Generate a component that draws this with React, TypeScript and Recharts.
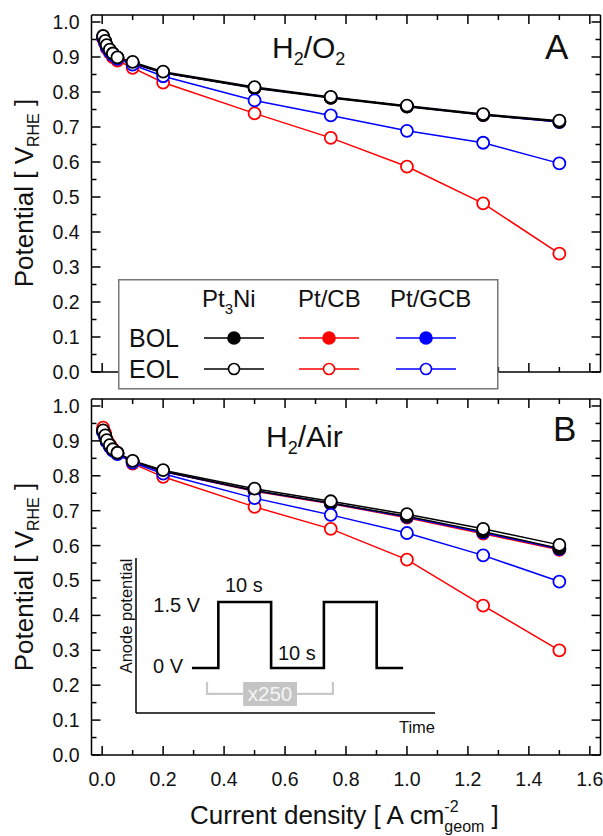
import React from 'react';
import { LineChart, Line, XAxis, YAxis, Legend, ReferenceArea } from 'recharts';

const FONT = '"Liberation Sans", Arial, Helvetica, sans-serif';
const RED = '#ff0000';
const BLUE = '#0000ff';
const BLACK = '#000000';

// ---------- data ----------
const currentDensity = [0.003, 0.01, 0.015, 0.025, 0.035, 0.05, 0.1, 0.2, 0.5, 0.75, 1.0, 1.25, 1.5];

// Panel A: H2/O2
const aPt3NiBOL = [0.956, 0.943, 0.931, 0.919, 0.909, 0.898, 0.882, 0.855, 0.811, 0.783, 0.758, 0.734, 0.715];
const aPtCBBOL = [0.956, 0.943, 0.931, 0.919, 0.909, 0.898, 0.882, 0.855, 0.812, 0.784, 0.759, 0.735, 0.716];
const aPtGCBBOL = [0.956, 0.943, 0.931, 0.919, 0.909, 0.898, 0.882, 0.855, 0.812, 0.784, 0.759, 0.735, 0.714];
const aPt3NiEOL = [0.96, 0.946, 0.934, 0.921, 0.91, 0.899, 0.886, 0.858, 0.814, 0.786, 0.761, 0.737, 0.718];
const aPtCBEOL = [0.952, 0.938, 0.925, 0.912, 0.9, 0.89, 0.869, 0.827, 0.739, 0.669, 0.587, 0.482, 0.338];
const aPtGCBEOL = [0.955, 0.94, 0.928, 0.915, 0.905, 0.895, 0.878, 0.845, 0.776, 0.733, 0.689, 0.655, 0.596];

// Panel B: H2/Air
const bPt3NiBOL = [0.928, 0.914, 0.9, 0.886, 0.874, 0.864, 0.841, 0.813, 0.758, 0.722, 0.684, 0.64, 0.592];
const bPtCBBOL = [0.93, 0.915, 0.9, 0.886, 0.874, 0.864, 0.84, 0.812, 0.756, 0.72, 0.68, 0.634, 0.588];
const bPtGCBBOL = [0.928, 0.913, 0.9, 0.886, 0.874, 0.864, 0.84, 0.812, 0.757, 0.721, 0.682, 0.637, 0.59];
const bPt3NiEOL = [0.93, 0.916, 0.902, 0.888, 0.876, 0.866, 0.843, 0.816, 0.763, 0.727, 0.69, 0.648, 0.602];
const bPtCBEOL = [0.938, 0.922, 0.905, 0.89, 0.877, 0.865, 0.835, 0.797, 0.711, 0.648, 0.56, 0.428, 0.3];
const bPtGCBEOL = [0.925, 0.91, 0.897, 0.883, 0.872, 0.862, 0.838, 0.806, 0.736, 0.688, 0.636, 0.572, 0.497];

const xTicks = [0, 0.1, 0.2, 0.3, 0.4, 0.5, 0.6, 0.7, 0.8, 0.9, 1.0, 1.1, 1.2, 1.3, 1.4, 1.5, 1.6];
const yTicks = [0, 0.05, 0.1, 0.15, 0.2, 0.25, 0.3, 0.35, 0.4, 0.45, 0.5, 0.55, 0.6, 0.65, 0.7, 0.75, 0.8, 0.85, 0.9, 0.95, 1.0];
const xDomain: [number, number] = [-0.035, 1.635];
const yDomain: [number, number] = [0, 1.02];

// inset (anode potential protocol)
const waveTime = [0, 1, 1, 3, 3, 5, 5, 7, 7, 8];
const waveVolt = [0, 0, 1.5, 1.5, 0, 0, 1.5, 1.5, 0, 0];
const bracketLeftTime = [0.57, 0.57, 1.94];
const bracketLeftVolt = [-0.32, -0.59, -0.59];
const bracketRightTime = [3.98, 5.34, 5.34];
const bracketRightVolt = [-0.59, -0.59, -0.32];

const catalysts = ['Pt3Ni', 'Pt/CB', 'Pt/GCB'];
const catalystColors = [BLACK, RED, BLUE];

type SeriesDef = { key: string; name: string; color: string; filled: boolean };
const drawOrder: SeriesDef[] = [
  { key: 'cbBOL', name: 'Pt/CB BOL', color: RED, filled: true },
  { key: 'gcbBOL', name: 'Pt/GCB BOL', color: BLUE, filled: true },
  { key: 'niBOL', name: 'Pt3Ni BOL', color: BLACK, filled: true },
  { key: 'cbEOL', name: 'Pt/CB EOL', color: RED, filled: false },
  { key: 'gcbEOL', name: 'Pt/GCB EOL', color: BLUE, filled: false },
  { key: 'niEOL', name: 'Pt3Ni EOL', color: BLACK, filled: false },
];

function buildRows(vals: Record<string, number[]>) {
  return currentDensity.map((x, i) => {
    const r: Record<string, number> = { x };
    Object.keys(vals).forEach((k) => {
      r[k] = vals[k][i];
    });
    return r;
  });
}

const rowsA = buildRows({
  niBOL: aPt3NiBOL, cbBOL: aPtCBBOL, gcbBOL: aPtGCBBOL,
  niEOL: aPt3NiEOL, cbEOL: aPtCBEOL, gcbEOL: aPtGCBEOL,
});
const rowsB = buildRows({
  niBOL: bPt3NiBOL, cbBOL: bPtCBBOL, gcbBOL: bPtGCBBOL,
  niEOL: bPt3NiEOL, cbEOL: bPtCBEOL, gcbEOL: bPtGCBEOL,
});

const waveRows = waveTime.map((t, i) => ({ t, v: waveVolt[i] }));
const bracketLeftRows = bracketLeftTime.map((t, i) => ({ t, v: bracketLeftVolt[i] }));
const bracketRightRows = bracketRightTime.map((t, i) => ({ t, v: bracketRightVolt[i] }));

// ---------- ticks ----------
const MAJOR = 9;
const MINOR = 5;
const isXMajor = (v: number) => Math.round(v * 10) % 2 === 0;
const isYMajor = (v: number) => Math.round(v * 100) % 10 === 0;

const makeXTick = (side: 'bottom' | 'top', showLabel: boolean) => (props: any) => {
  const { x, y, payload } = props;
  const v = payload.value as number;
  const major = isXMajor(v);
  const len = major ? MAJOR : MINOR;
  const dir = side === 'bottom' ? -1 : 1;
  return (
    <g>
      <line x1={x} y1={y} x2={x} y2={y + dir * len} stroke="#000" strokeWidth={1.5} />
      {showLabel && major ? (
        <text x={x} y={y + 31} textAnchor="middle" fontSize={19.5} fontFamily={FONT} fill="#111">
          {v.toFixed(1)}
        </text>
      ) : null}
    </g>
  );
};

const makeYTick = (side: 'left' | 'right') => (props: any) => {
  const { x, y, payload } = props;
  const v = payload.value as number;
  const major = isYMajor(v);
  const len = major ? MAJOR : MINOR;
  const dir = side === 'left' ? 1 : -1;
  return (
    <g>
      <line x1={x} y1={y} x2={x + dir * len} y2={y} stroke="#000" strokeWidth={1.5} />
      {side === 'left' && major ? (
        <text x={x - 12} y={y + 7} textAnchor="end" fontSize={19.5} fontFamily={FONT} fill="#111">
          {v.toFixed(1)}
        </text>
      ) : null}
    </g>
  );
};

const axisLine = { stroke: '#000', strokeWidth: 1.5 };

// ---------- legend ----------
const LegendBox = () => {
  const headerX = [84, 180, 272];
  const sampleX = [86, 181, 278];
  const rowY = [59, 90];
  return (
    <svg width={381} height={111} style={{ display: 'block', overflow: 'visible' }}>
      <rect x={0.75} y={0.75} width={379} height={109} fill="#fff" stroke="#777" strokeWidth={1.5} />
      <text x={headerX[0]} y={28} fontSize={24} fontFamily={FONT} fill="#111">
        Pt<tspan fontSize={15} dy={7}>3</tspan>
        <tspan dy={-7}>Ni</tspan>
      </text>
      <text x={headerX[1]} y={28} fontSize={24} fontFamily={FONT} fill="#111">{catalysts[1]}</text>
      <text x={headerX[2]} y={28} fontSize={24} fontFamily={FONT} fill="#111">{catalysts[2]}</text>
      <text x={11} y={68} fontSize={25} fontFamily={FONT} fill="#111">BOL</text>
      <text x={11} y={99} fontSize={25} fontFamily={FONT} fill="#111">EOL</text>
      {catalystColors.map((c, i) =>
        rowY.map((ry, j) => (
          <g key={`${i}-${j}`}>
            <line x1={sampleX[i]} y1={ry} x2={sampleX[i] + 60} y2={ry} stroke={c} strokeWidth={1.5} />
            <circle
              cx={sampleX[i] + 30}
              cy={ry}
              r={j === 0 ? 6 : 5.5}
              fill={j === 0 ? c : '#fff'}
              stroke={c}
              strokeWidth={1.6}
            />
          </g>
        ))
      )}
    </svg>
  );
};

// ---------- panel ----------
type PanelProps = {
  rows: Record<string, number>[];
  top: number;
  height: number;
  margin: { top: number; right: number; bottom: number; left: number };
  showXLabels: boolean;
  withLegend: boolean;
};

const Panel = ({ rows, top, height, margin, showXLabels, withLegend }: PanelProps) => (
  <div style={{ position: 'absolute', left: 0, top, width: 603, height }}>
    <LineChart width={603} height={height} data={rows} margin={margin}>
      <XAxis
        xAxisId="b"
        dataKey="x"
        type="number"
        domain={xDomain}
        allowDataOverflow
        ticks={xTicks}
        interval={0}
        height={1}
        tickSize={0}
        tickMargin={0}
        tickLine={false}
        axisLine={axisLine}
        tick={makeXTick('bottom', showXLabels)}
      />
      <XAxis
        xAxisId="t"
        orientation="top"
        dataKey="x"
        type="number"
        domain={xDomain}
        allowDataOverflow
        ticks={xTicks}
        interval={0}
        height={1}
        tickSize={0}
        tickMargin={0}
        tickLine={false}
        axisLine={axisLine}
        tick={makeXTick('top', false)}
      />
      <YAxis
        yAxisId="l"
        type="number"
        domain={yDomain}
        allowDataOverflow
        ticks={yTicks}
        interval={0}
        width={1}
        tickSize={0}
        tickMargin={0}
        tickLine={false}
        axisLine={axisLine}
        tick={makeYTick('left')}
      />
      <YAxis
        yAxisId="r"
        orientation="right"
        type="number"
        domain={yDomain}
        allowDataOverflow
        ticks={yTicks}
        interval={0}
        width={1}
        tickSize={0}
        tickMargin={0}
        tickLine={false}
        axisLine={axisLine}
        tick={makeYTick('right')}
      />
      {drawOrder.map((s) => (
        <Line
          key={s.key}
          xAxisId="b"
          yAxisId="l"
          type="linear"
          dataKey={s.key}
          name={s.name}
          stroke={s.color}
          strokeWidth={1.5}
          dot={{ r: 6, fill: s.filled ? s.color : '#fff', stroke: s.color, strokeWidth: 1.8 }}
          activeDot={false}
          isAnimationActive={false}
        />
      ))}
      {withLegend ? (
        <Legend
          layout="horizontal"
          verticalAlign="middle"
          align="center"
          width={381}
          height={111}
          wrapperStyle={{ left: 118, top: 279, width: 381, height: 111 }}
          content={() => <LegendBox />}
        />
      ) : null}
    </LineChart>
  </div>
);

// ---------- inset ----------
const insetAxis = { stroke: '#000', strokeWidth: 1.5 };
const Inset = () => (
  <div style={{ position: 'absolute', left: 135, top: 558, width: 300, height: 156 }}>
    <LineChart width={300} height={156} margin={{ top: 0, right: 0, bottom: 0, left: 0 }}>
      <XAxis
        dataKey="t"
        type="number"
        domain={[-2.12, 9.21]}
        allowDataOverflow
        height={1}
        tick={false}
        tickLine={false}
        axisLine={insetAxis}
      />
      <YAxis
        type="number"
        domain={[-1.023, 2.5]}
        allowDataOverflow
        width={1}
        tick={false}
        tickLine={false}
        axisLine={insetAxis}
      />
      <ReferenceArea x1={1.94} x2={3.98} y1={-0.864} y2={-0.318} fill="#c4c4c4" fillOpacity={1} stroke="none" />
      <Line data={bracketLeftRows} dataKey="v" type="linear" stroke="#c8c8c8" strokeWidth={2.2} dot={false} activeDot={false} isAnimationActive={false} />
      <Line data={bracketRightRows} dataKey="v" type="linear" stroke="#c8c8c8" strokeWidth={2.2} dot={false} activeDot={false} isAnimationActive={false} />
      <Line data={waveRows} dataKey="v" type="linear" stroke="#000" strokeWidth={2.6} dot={false} activeDot={false} isAnimationActive={false} />
    </LineChart>
  </div>
);

// ---------- texts ----------
const Texts = () => (
  <svg width={603} height={836} style={{ position: 'absolute', left: 0, top: 0, pointerEvents: 'none' }}>
    <g fontFamily={FONT} fill="#111">
      {/* axis titles */}
      <text transform="translate(33,193) rotate(-90)" textAnchor="middle" fontSize={26}>
        Potential [ V<tspan fontSize={16} dy={6}>RHE</tspan>
        <tspan dy={-6}> ]</tspan>
      </text>
      <text transform="translate(33,577) rotate(-90)" textAnchor="middle" fontSize={26}>
        Potential [ V<tspan fontSize={16} dy={6}>RHE</tspan>
        <tspan dy={-6}> ]</tspan>
      </text>
      <text x={190} y={824} fontSize={26}>
        Current density [ A cm<tspan fontSize={16} dy={-12}>-2</tspan>
        <tspan fontSize={16} dx={-14.2} dy={20}>geom</tspan>
        <tspan dy={-8}> ]</tspan>
      </text>
      {/* panel labels */}
      <text x={272} y={58} fontSize={30}>
        H<tspan fontSize={18} dy={7}>2</tspan>
        <tspan dy={-7}>/O</tspan>
        <tspan fontSize={18} dy={7}>2</tspan>
      </text>
      <text x={545} y={59} fontSize={35}>A</text>
      <text x={266} y={447} fontSize={30}>
        H<tspan fontSize={18} dy={7}>2</tspan>
        <tspan dy={-7}>/Air</tspan>
      </text>
      <text x={553} y={441} fontSize={35}>B</text>
      {/* inset labels */}
      <text transform="translate(132,616) rotate(-90)" textAnchor="middle" fontSize={16.5}>Anode potential</text>
      <text x={435} y={733} textAnchor="end" fontSize={16.5}>Time</text>
      <text x={200} y={612} textAnchor="end" fontSize={20}>1.5 V</text>
      <text x={183} y={673} textAnchor="end" fontSize={20}>0 V</text>
      <text x={225} y={592} fontSize={20}>10 s</text>
      <text x={278} y={660} fontSize={20}>10 s</text>
      <text x={270} y={701} textAnchor="middle" fontSize={20.5} fill="#f4f4f4">x250</text>
    </g>
  </svg>
);

export default function App() {
  return (
    <div style={{ position: 'absolute', left: 0, top: 0, width: 603, height: 836, background: '#fff', fontFamily: FONT }}>
      <Panel
        rows={rowsA}
        top={0}
        height={390}
        margin={{ top: 14, right: 1.5, bottom: 17, left: 90.5 }}
        showXLabels={false}
        withLegend
      />
      <Panel
        rows={rowsB}
        top={390}
        height={446}
        margin={{ top: 8, right: 1.5, bottom: 80, left: 90.5 }}
        showXLabels
        withLegend={false}
      />
      <Inset />
      <Texts />
    </div>
  );
}
